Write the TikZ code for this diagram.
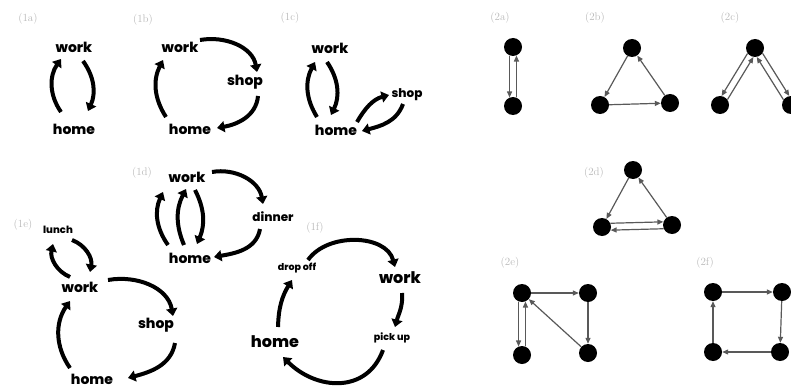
\documentclass[tikz,border=0pt]{standalone}
\usepackage{fontspec}
\newfontfamily\wordfont{Poppins}[UprightFont={* ExtraBold}, BoldFont={* Black}]
\usetikzlibrary{arrows.meta,calc}

\begin{document}
\begin{tikzpicture}[x=1pt,y=1pt,
  tag/.style={font=\fontsize{11}{11}\selectfont, text=black!28, inner sep=0pt},
  word/.style={font=\wordfont\fontsize{#1}{#1}\selectfont, inner sep=0pt},
  word/.default=14,
  bigarr/.style={line width=4pt, -{Triangle[length=7.5pt,width=11pt]}},
  dot/.style={circle, fill=black, minimum size=18pt, inner sep=0pt},
  link/.style={draw=black!65, line width=1.2pt, -{Triangle[length=6pt,width=5pt]}, shorten >=0pt}
]
\useasboundingbox (0,0) rectangle (791,-385);

% ---- panel labels ----
\node[tag] (L1a) at (28,-19)  {(1a)};
\node[tag] (L1b) at (143,-20) {(1b)};
\node[tag] (L1c) at (290,-18) {(1c)};
\node[tag] (L1d) at (142,-173) {(1d)};
\node[tag] (L1e) at (23,-225) {(1e)};
\node[tag] (L1f) at (315,-228) {(1f)};
\node[tag] (L2a) at (500,-18) {(2a)};
\node[tag] (L2b) at (595,-18) {(2b)};
\node[tag] (L2c) at (730,-18) {(2c)};
\node[tag] (L2d) at (594,-173) {(2d)};
\node[tag] (L2e) at (510,-263) {(2e)};
\node[tag] (L2f) at (705,-263) {(2f)};

% ---- (1a) ----
\node[word] (w1a) at (74,-47) {work};
\node[word] (h1a) at (74,-129) {home};
\draw[bigarr] ($(h1a)+(-13,17)$) to[bend left=35] ($(w1a)+(-13,-12)$);
\draw[bigarr] ($(w1a)+(9,-14)$) to[bend left=30] ($(h1a)+(14,18)$);

% ---- (1b) ----
\node[word] (w1b) at (180,-47) {work};
\node[word] (s1b) at (245,-82) {shop};
\node[word] (h1b) at (190,-129) {home};
\draw[bigarr] ($(w1b)+(20,7)$) to[out=10,in=100] ($(s1b)+(12,10)$);
\draw[bigarr] ($(s1b)+(13,-14)$) to[out=-95,in=10] ($(h1b)+(27,1)$);
\draw[bigarr] ($(h1b)+(-24,12)$) to[bend left=30] ($(w1b)+(-17,-13)$);

% ---- (1c) ----
\node[word] (w1c) at (330,-48) {work};
\node[word=12] (s1c) at (407,-95) {shop};
\node[word] (h1c) at (336,-130) {home};
\draw[bigarr] ($(h1c)+(-19,13)$) to[bend left=30] ($(w1c)+(-15,-14)$);
\draw[bigarr] ($(w1c)+(-3,-14)$) to[bend left=30] ($(h1c)+(-5,15)$);
\draw[bigarr] ($(h1c)+(21,8)$) to[out=60,in=195] ($(s1c)+(-18,0)$);
\draw[bigarr] ($(s1c)+(-4,-9)$) to[out=-110,in=15] ($(h1c)+(26,-1)$);

% ---- (1d) ----
\node[word] (w1d) at (187,-177) {work};
\node[word] (h1d) at (190,-258) {home};
\node[word=12] (d1d) at (273,-217) {dinner};
\draw[bigarr] ($(h1d)+(-22,13)$) to[bend left=30] ($(w1d)+(-24,-15)$);
\draw[bigarr] ($(h1d)+(-6,13)$) to[bend left=25] ($(w1d)+(-1,-12)$);
\draw[bigarr] ($(w1d)+(8,-13)$) to[bend left=25] ($(h1d)+(7,14)$);
\draw[bigarr] ($(w1d)+(25,5)$) to[out=10,in=100] ($(d1d)+(-10,13)$);
\draw[bigarr] ($(d1d)+(-13,-12)$) to[out=-100,in=10] ($(h1d)+(24,1)$);

% ---- (1e) ----
\node[word=10] (l1e) at (58,-230) {lunch};
\node[word] (w1e) at (80,-287) {work};
\node[word] (s1e) at (156,-325) {shop};
\node[word] (h1e) at (92,-379) {home};
\draw[bigarr] ($(l1e)+(14,-10)$) to[bend left=40] ($(w1e)+(10,15)$);
\draw[bigarr] ($(w1e)+(-10,10)$) to[bend left=40] ($(l1e)+(-5,-14)$);
\draw[bigarr] ($(w1e)+(28,7)$) to[out=10,in=100] ($(s1e)+(17,9)$);
\draw[bigarr] ($(s1e)+(19,-18)$) to[out=-100,in=15] ($(h1e)+(36,1)$);
\draw[bigarr] ($(h1e)+(-22,11)$) to[bend left=35] ($(w1e)+(-10,-14)$);

% ---- (1f) ----
\node[word=9.5] (o1f) at (297,-268) {drop off};
\node[word=16] (w1f) at (400,-278) {work};
\node[word=9.5] (p1f) at (392,-338) {pick up};
\node[word=16] (h1f) at (275,-342) {home};
\draw[bigarr] ($(o1f)+(11,8)$) to[out=55,in=105] ($(w1f)+(-5,11)$);
\draw[bigarr] ($(w1f)+(2,-15)$) to[out=-85,in=75] ($(p1f)+(3,11)$);
\draw[bigarr] ($(p1f)+(-9,-12)$) to[out=-110,in=-45,looseness=1.2] ($(h1f)+(8,-15)$);
\draw[bigarr] ($(h1f)+(3,15)$) to[bend left=15] ($(o1f)+(-5,-12)$);

% ---- (2a) ----
\node[dot] (t2a) at (513,-47) {};
\node[dot] (b2a) at (513,-106) {};
\draw[link] (t2a.248) -- (b2a.112);
\draw[link] (b2a.68) -- (t2a.292);

% ---- (2b) ----
\node[dot] (t2b) at (632,-48) {};
\node[dot] (l2b) at (600,-105) {};
\node[dot] (r2b) at (670,-103) {};
\draw[link] (t2b) -- (l2b);
\draw[link] (l2b) -- (r2b);
\draw[link] (r2b) -- (t2b);

% ---- (2c) ----
\node[dot] (t2c) at (755,-48) {};
\node[dot] (l2c) at (720,-105) {};
\node[dot] (r2c) at (791,-105) {};
\draw[link] (t2c.216) -- (l2c.80);
\draw[link] (l2c.36) -- (t2c.260);
\draw[link] (t2c.325) -- (r2c.101);
\draw[link] (r2c.145) -- (t2c.281);

% ---- (2d) ----
\node[dot] (t2d) at (633,-170) {};
\node[dot] (l2d) at (602,-227) {};
\node[dot] (r2d) at (672,-225) {};
\draw[link] (t2d) -- (l2d);
\draw[link] (r2d) -- (t2d);
\draw[link] (l2d.24) -- (r2d.160);
\draw[link] (r2d.204) -- (l2d.340);

% ---- (2e) ----
\node[dot] (a2e) at (522,-293) {};
\node[dot] (b2e) at (588,-293) {};
\node[dot] (c2e) at (522,-355) {};
\node[dot] (d2e) at (588,-353) {};
\draw[link] (a2e) -- (b2e);
\draw[link] (b2e) -- (d2e);
\draw[link] (d2e) -- (a2e);
\draw[link] (a2e.248) -- (c2e.112);
\draw[link] (c2e.68) -- (a2e.292);

% ---- (2f) ----
\node[dot] (a2f) at (713,-292) {};
\node[dot] (b2f) at (782,-292) {};
\node[dot] (c2f) at (713,-352) {};
\node[dot] (d2f) at (780,-352) {};
\draw[link] (a2f) -- (b2f);
\draw[link] (b2f) -- (d2f);
\draw[link] (d2f) -- (c2f);
\draw[link] (c2f) -- (a2f);
\end{tikzpicture}
\end{document}
